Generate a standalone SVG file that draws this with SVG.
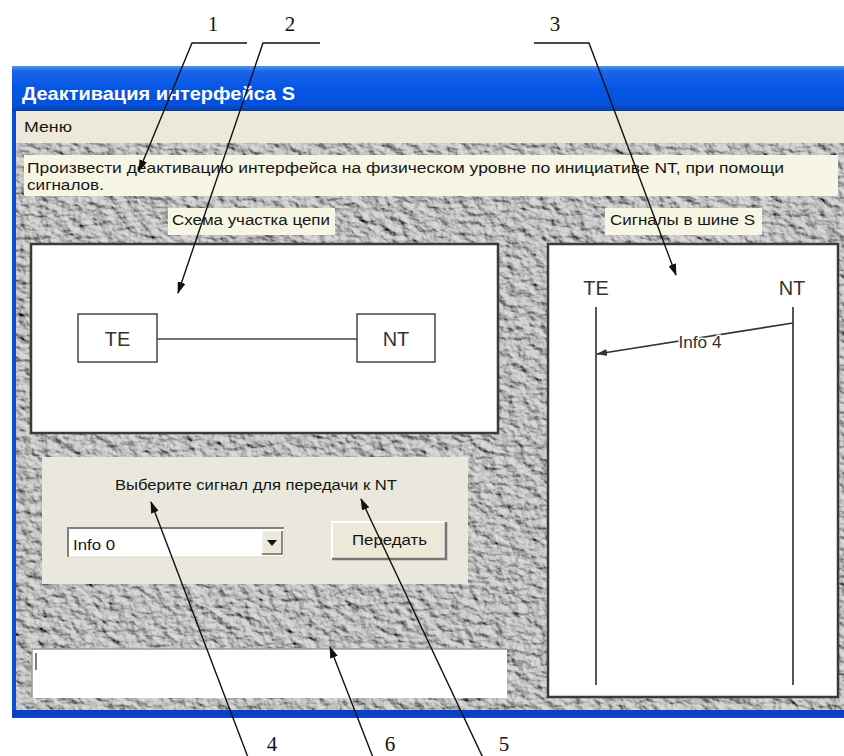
<svg xmlns="http://www.w3.org/2000/svg" width="844" height="756" viewBox="0 0 844 756">
<defs>
<style>
.ui{font-family:"Liberation Sans",Arial,sans-serif;fill:#151515;font-size:14px}
.num{font-family:"Liberation Serif","Times New Roman",serif;font-size:21px;fill:#111}
.lead{fill:none;stroke:#111;stroke-width:1.4}
.panel{fill:#fff;stroke:#3a3a3a;stroke-width:2.5}
.cream{fill:#f7f5e4}
.big{font-family:"Liberation Sans",Arial,sans-serif;font-size:20px;fill:#333}
</style>
<linearGradient id="titleGrad" x1="0" y1="0" x2="0" y2="1">
<stop offset="0" stop-color="#4f95f5"/>
<stop offset="0.12" stop-color="#1a64ea"/>
<stop offset="0.5" stop-color="#0656e4"/>
<stop offset="0.88" stop-color="#0550da"/>
<stop offset="1" stop-color="#073fa8"/>
</linearGradient>
<filter id="stone" x="0" y="0" width="1" height="1">
<feTurbulence type="fractalNoise" baseFrequency="0.09 0.13" numOctaves="4" seed="3" result="n"/>
<feDiffuseLighting in="n" surfaceScale="4" diffuseConstant="1.1" lighting-color="#d2d2d2">
<feDistantLight azimuth="135" elevation="48"/>
</feDiffuseLighting>
</filter>
<marker id="ah" markerWidth="12" markerHeight="8" refX="11" refY="4" orient="auto" markerUnits="userSpaceOnUse">
<path d="M0,0 L12,4 L0,8 z" fill="#111"/>
</marker>
<marker id="ah2" markerWidth="11" markerHeight="7" refX="10" refY="3.5" orient="auto" markerUnits="userSpaceOnUse">
<path d="M0,0 L11,3.5 L0,7 z" fill="#333"/>
</marker>
</defs>
<rect width="844" height="756" fill="#fff"/>

<g id="window">
<rect x="12" y="66" width="840" height="652" fill="#0a4ed8"/>
<rect x="12" y="66" width="840" height="45" fill="url(#titleGrad)"/>
<text x="22" y="100" style="font-family:'Liberation Sans',Arial,sans-serif;font-weight:bold;font-size:19px;fill:#fff" textLength="273" lengthAdjust="spacingAndGlyphs">Деактивация интерфейса S</text>
<rect x="16" y="111" width="836" height="32" fill="#ece9d8"/>
<text class="ui" x="24" y="132" textLength="48" lengthAdjust="spacingAndGlyphs">Меню</text>
<rect x="16" y="143" width="836" height="567" fill="#bbb" filter="url(#stone)"/>
<rect x="12" y="710" width="840" height="7" fill="#0a40c4"/>
</g>

<g id="instruction">
<rect class="cream" x="24" y="155" width="814" height="41"/>
<text class="ui" x="27" y="173" textLength="757" lengthAdjust="spacingAndGlyphs">Произвести деактивацию интерфейса на физическом уровне по инициативе NT, при помощи</text>
<text class="ui" x="27" y="190" textLength="77" lengthAdjust="spacingAndGlyphs">сигналов.</text>
</g>

<g id="label-scheme">
<rect class="cream" x="168" y="208" width="167" height="27"/>
<text class="ui" x="172" y="225" textLength="158" lengthAdjust="spacingAndGlyphs">Схема участка цепи</text>
</g>
<g id="label-signals">
<rect class="cream" x="605" y="208" width="157" height="27"/>
<text class="ui" x="610" y="225" textLength="145" lengthAdjust="spacingAndGlyphs">Сигналы в шине S</text>
</g>

<g id="scheme-panel">
<rect class="panel" x="31" y="244" width="467" height="189"/>
</g>
<g id="node-te">
<rect x="78" y="314" width="79" height="48" fill="#fff" stroke="#444" stroke-width="1.5"/>
<text class="big" x="117.5" y="346" text-anchor="middle">TE</text>
</g>
<g id="node-nt">
<rect x="357" y="314" width="78" height="48" fill="#fff" stroke="#444" stroke-width="1.5"/>
<text class="big" x="396" y="346" text-anchor="middle">NT</text>
</g>

<g id="signals-panel">
<rect class="panel" x="548" y="244" width="290" height="453"/>
<text class="big" x="596" y="295" text-anchor="middle" font-size="21">TE</text>
<text class="big" x="792" y="295" text-anchor="middle" font-size="21">NT</text>
<line x1="596" y1="307" x2="596" y2="685" stroke="#555" stroke-width="2"/>
<line x1="793" y1="307" x2="793" y2="685" stroke="#555" stroke-width="2"/>
</g>

<g id="send-panel">
<rect x="42" y="457" width="426" height="127" fill="#eae8dc"/>
<text class="ui" x="115" y="490" textLength="282" lengthAdjust="spacingAndGlyphs">Выберите сигнал для передачи к NT</text>
</g>
<g id="combo">
<rect x="68" y="528" width="216" height="29" fill="#fff"/>
<path d="M68,557 V528 H284" fill="none" stroke="#808080" stroke-width="2"/>
<path d="M68,557 H284 V528" fill="none" stroke="#d8d6ca" stroke-width="1"/>
<text class="ui" x="73" y="550" textLength="42" lengthAdjust="spacingAndGlyphs">Info 0</text>
<rect x="262" y="531" width="20" height="23" fill="#ece9d8"/>
<path d="M262,554 V531 H282" fill="none" stroke="#fff" stroke-width="1"/>
<path d="M262,554 H282 V531" fill="none" stroke="#666" stroke-width="1.5"/>
<path d="M267,540 H277 L272,546 z" fill="#111"/>
</g>
<g id="button-send">
<rect x="332" y="522" width="114" height="37" fill="#ece9d8"/>
<path d="M332,559 V522 H446" fill="none" stroke="#fff" stroke-width="2"/>
<path d="M332,559 H446 V522" fill="none" stroke="#777" stroke-width="2.5"/>
<text class="ui" x="352" y="545" textLength="75" lengthAdjust="spacingAndGlyphs">Передать</text>
</g>
<g id="status">
<rect x="32" y="649" width="475" height="49" fill="#fff"/>
<path d="M32,698 V649 H507" fill="none" stroke="#9a9a9a" stroke-width="1.5"/>
<line x1="36" y1="653" x2="36" y2="670" stroke="#555" stroke-width="1.5"/>
</g>

<g id="connectors">
<line x1="157" y1="339" x2="357" y2="339" stroke="#444" stroke-width="1.5"/>
<line x1="793" y1="323" x2="597" y2="354" stroke="#333" stroke-width="1.6" marker-end="url(#ah2)"/>
<text x="700" y="348" text-anchor="middle" style="font-family:'Liberation Sans',Arial,sans-serif;font-size:17px;fill:#333;stroke:#fff;stroke-width:3;paint-order:stroke" textLength="43" lengthAdjust="spacingAndGlyphs">Info 4</text>
<polyline class="lead" points="247,43 192,43 139,171" marker-end="url(#ah)"/>
<polyline class="lead" points="320,43 263,43 178,293" marker-end="url(#ah)"/>
<polyline class="lead" points="534,43 589,43 676,275" marker-end="url(#ah)"/>
<line class="lead" x1="249" y1="760" x2="151" y2="502" marker-end="url(#ah)"/>
<line class="lead" x1="374" y1="760" x2="330" y2="647" marker-end="url(#ah)"/>
<line class="lead" x1="484" y1="760" x2="361" y2="499" marker-end="url(#ah)"/>
</g>

<g id="callout-labels">
<text class="num" x="213" y="31" text-anchor="middle">1</text>
<text class="num" x="290" y="31" text-anchor="middle">2</text>
<text class="num" x="555" y="31" text-anchor="middle">3</text>
<text class="num" x="272" y="751" text-anchor="middle">4</text>
<text class="num" x="390" y="751" text-anchor="middle">6</text>
<text class="num" x="504" y="751" text-anchor="middle">5</text>
</g>
</svg>
